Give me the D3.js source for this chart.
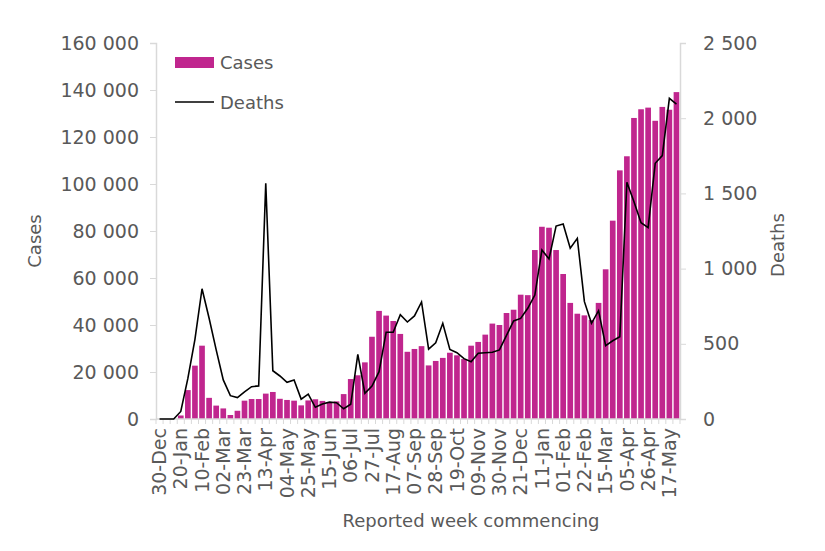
<!DOCTYPE html>
<html><head><meta charset="utf-8">
<script src="https://cdn.jsdelivr.net/npm/d3@7"></script>
<style>body{margin:0;background:#fff}svg{display:block}text{font-family:"DejaVu Sans",sans-serif;fill:#595959}</style>
</head><body><svg id="c" width="825" height="551"></svg>
<script>
const weeks = ["30-Dec","06-Jan","13-Jan","20-Jan","27-Jan","03-Feb","10-Feb","17-Feb","24-Feb","02-Mar","09-Mar","16-Mar","23-Mar","30-Mar","06-Apr","13-Apr","20-Apr","27-Apr","04-May","11-May","18-May","25-May","01-Jun","08-Jun","15-Jun","22-Jun","29-Jun","06-Jul","13-Jul","20-Jul","27-Jul","03-Aug","10-Aug","17-Aug","24-Aug","31-Aug","07-Sep","14-Sep","21-Sep","28-Sep","05-Oct","12-Oct","19-Oct","26-Oct","02-Nov","09-Nov","16-Nov","23-Nov","30-Nov","07-Dec","14-Dec","21-Dec","28-Dec","04-Jan","11-Jan","18-Jan","25-Jan","01-Feb","08-Feb","15-Feb","22-Feb","01-Mar","08-Mar","15-Mar","22-Mar","29-Mar","05-Apr","12-Apr","19-Apr","26-Apr","03-May","10-May","17-May","24-May"];
const cases = [0,0,0,1500,12300,22700,31200,9000,5700,4500,1700,3500,7800,8500,8500,10800,11500,8600,8100,7800,5800,7900,8400,7700,7000,7500,10600,17000,18600,24100,35000,46000,44000,41700,36200,28600,29800,31000,22800,24700,26000,28200,27100,25500,31200,32800,35900,40600,40000,45100,46500,52900,52700,71900,81800,81400,71900,61700,49400,44800,44100,42100,49400,63700,84400,105800,111800,128100,131800,132500,126900,132800,131600,139100];
const deaths = [0,0,0,50,270,530,866,670,460,260,155,142,180,215,220,1567,321,286,244,260,132,165,78,100,112,108,68,98,430,171,219,315,577,577,694,645,685,778,464,507,636,463,441,401,380,437,441,444,459,556,652,669,736,824,1124,1064,1283,1297,1135,1201,780,636,720,488,520,547,1574,1445,1305,1272,1700,1751,2132,2094];
const caseTicks = [0,20000,40000,60000,80000,100000,120000,140000,160000];
const deathTicks = [0,500,1000,1500,2000,2500];
const labelEvery = 3;

const svg = d3.select("#c");
const L = 156, R = 680, T = 43, B = 419;
const x = d3.scaleBand().domain(d3.range(weeks.length)).range([L, R]).paddingInner(0.2).paddingOuter(0.1);
const y = d3.scaleLinear().domain([0,160000]).range([B, T]);
const y2 = d3.scaleLinear().domain([0,2500]).range([B, T]);
const fmt = v => d3.format(",")(v).replace(/,/g, " ");
const axisCol = "#d9d9d9";

// bars
svg.append("g").selectAll("rect").data(cases).join("rect")
  .attr("x", (d,i) => x(i)).attr("width", x.bandwidth())
  .attr("y", d => y(d)).attr("height", d => B - y(d))
  .attr("fill", "#C0268E");

// left axis
const gl = svg.append("g").attr("transform", `translate(${L},0)`)
  .call(d3.axisLeft(y).tickValues(caseTicks).tickSize(6).tickPadding(11).tickFormat(fmt));
// right axis
const gr = svg.append("g").attr("transform", `translate(${R},0)`)
  .call(d3.axisRight(y2).tickValues(deathTicks).tickSize(6).tickPadding(17).tickFormat(fmt));
// bottom axis
const gb = svg.append("g").attr("transform", `translate(0,${B})`)
  .call(d3.axisBottom(x).tickSize(0).tickFormat((d,i) => i % labelEvery === 0 ? weeks[i] : ""));
gb.selectAll(".tick text").attr("transform", "rotate(-90)").attr("text-anchor", "end")
  .attr("x", -9).attr("y", 0).attr("dy", "0.35em");
// minor ticks at category boundaries
svg.append("g").selectAll("line").data(d3.range(weeks.length + 1)).join("line")
  .attr("x1", i => L + x.step()*x.paddingOuter() + x.step()*i - x.step()*x.paddingInner()/2)
  .attr("x2", i => L + x.step()*x.paddingOuter() + x.step()*i - x.step()*x.paddingInner()/2)
  .attr("y1", B).attr("y2", B + 5).attr("stroke", axisCol);

[gl, gr, gb].forEach(g => {
  g.selectAll(".domain").attr("stroke", axisCol).attr("stroke-width", 1.5);
  g.selectAll(".tick line").attr("stroke", axisCol);
  g.selectAll(".tick text").style("font-size", "19px").attr("fill", "#595959");
});
gb.selectAll(".domain").remove();
svg.append("line").attr("x1", L).attr("x2", R).attr("y1", B).attr("y2", B).attr("stroke", axisCol).attr("stroke-width", 1.5);

// deaths line
svg.append("path").datum(deaths)
  .attr("fill", "none").attr("stroke", "#000").attr("stroke-width", 1.6)
  .attr("d", d3.line().x((d,i) => x(i) + x.bandwidth()/2).y(d => y2(d)));

// titles
svg.append("text").attr("transform", `translate(41,241) rotate(-90)`)
  .attr("text-anchor", "middle").style("font-size", "18px").text("Cases");
svg.append("text").attr("transform", `translate(784,245) rotate(-90)`)
  .attr("text-anchor", "middle").style("font-size", "18px").text("Deaths");
svg.append("text").attr("x", 471).attr("y", 527)
  .attr("text-anchor", "middle").style("font-size", "18px").text("Reported week commencing");

// legend
const lg = svg.append("g");
lg.append("rect").attr("x", 175).attr("y", 57).attr("width", 39).attr("height", 11).attr("fill", "#C0268E");
lg.append("text").attr("x", 220).attr("y", 69).style("font-size", "18px").text("Cases");
lg.append("line").attr("x1", 175).attr("x2", 214).attr("y1", 102).attr("y2", 102).attr("stroke", "#000").attr("stroke-width", 1.6);
lg.append("text").attr("x", 220).attr("y", 109).style("font-size", "18px").text("Deaths");
</script></body></html>
